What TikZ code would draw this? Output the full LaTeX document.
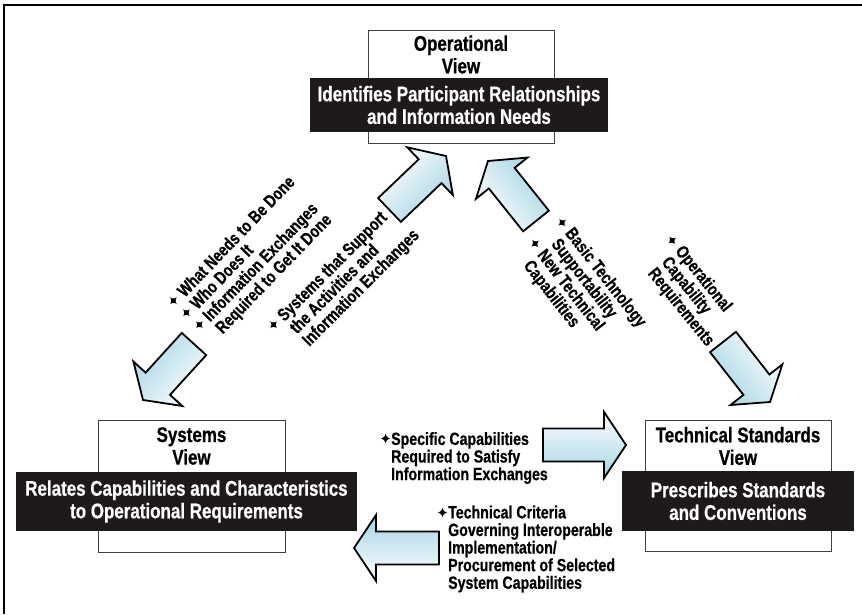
\documentclass[tikz,border=0pt]{standalone}
\usepackage{fontspec}
\setmainfont{Liberation Sans}[FakeStretch=0.8, FakeBold=0.6]
\newfontfamily\symfont{DejaVu Sans}
\usetikzlibrary{calc}
\definecolor{arrowblue}{RGB}{165,212,228}
\definecolor{bandblack}{RGB}{30,26,26}
\newcommand{\boxfont}{\fontsize{21.2}{22.6}\selectfont\bfseries}
\newcommand{\notefont}{\fontsize{17.7}{17.6}\selectfont\bfseries}
\newcommand{\bul}{\makebox[11pt]{\symfont\fontsize{15}{15}\selectfont ✦}}
\newcommand{\shafthw}{16.5pt}
\newcommand{\headhw}{33pt}
\newcommand{\headlen}{22pt}
% block arrow: shading angle, tail, tip
\newcommand{\blockarrow}[3]{%
  \coordinate (#2-hb) at ($(#3)!\headlen!(#2)$);
  \path[blockarr, shading angle=#1]
    ($(#2)!\shafthw!90:(#3)$) -- ($(#2-hb)!\shafthw!90:(#3)$)
    -- ($(#2-hb)!\headhw!90:(#3)$) -- (#3)
    -- ($(#2-hb)!\headhw!-90:(#3)$) -- ($(#2-hb)!\shafthw!-90:(#3)$)
    -- ($(#2)!\shafthw!-90:(#3)$) -- cycle;}
\tikzset{
  viewbox/.style={draw=black!75, line width=0.8pt},
  title/.style={font=\boxfont, align=center, inner sep=0pt},
  band/.style={fill=bandblack, text=white, font=\boxfont, align=center, inner sep=0pt},
  note/.style={font=\notefont, align=left, inner sep=0pt},
  blockarr/.style={draw=black, line width=1.8pt, line join=miter,
    left color=white, right color=arrowblue}
}

\begin{document}
\begin{tikzpicture}[x=1pt,y=1pt]
  \useasboundingbox (0,0) rectangle (862,614);
  \draw[line width=2pt] (4,0) -- (4,609) -- (862,609);

  % views
  \node[viewbox, minimum width=186pt, minimum height=113pt] (opBox) at (461,527.5) {};
  \node[title] (opTitle) at (461,559.5) {Operational\\View};
  \node[band, minimum width=298pt, minimum height=54pt] (opBand) at (459,509)
    {Identifies Participant Relationships\\and Information Needs};

  \node[viewbox, minimum width=187pt, minimum height=132pt] (sysBox) at (191.5,128) {};
  \node[title] (sysTitle) at (191.5,168) {Systems\\View};
  \node[band, minimum width=341pt, minimum height=59pt] (sysBand) at (186.5,112.5)
    {Relates Capabilities and Characteristics\\to Operational Requirements};

  \node[viewbox, minimum width=186pt, minimum height=131pt] (tsBox) at (738,128.5) {};
  \node[title] (tsTitle) at (738,168) {Technical Standards\\View};
  \node[band, minimum width=232pt, minimum height=60pt] (tsBand) at (738,113)
    {Prescribes Standards\\and Conventions};

  % arrows
  \coordinate (opSysT) at (194,270);  \coordinate (opSysH) at (143,214);
  \coordinate (sysOpT) at (389.5,404); \coordinate (sysOpH) at (446,458);
  \coordinate (tsOpT) at (536,393);   \coordinate (tsOpH) at (488,453);
  \coordinate (opTsT) at (723,272);   \coordinate (opTsH) at (770,212);
  \coordinate (sysTsT) at (543,169);  \coordinate (sysTsH) at (626,169);
  \coordinate (tsSysT) at (439,66);   \coordinate (tsSysH) at (354,66);
  \blockarrow{228}{opSysT}{opSysH}
  \blockarrow{44}{sysOpT}{sysOpH}
  \blockarrow{129}{tsOpT}{tsOpH}
  \blockarrow{-52}{opTsT}{opTsH}
  \blockarrow{0}{sysTsT}{sysTsH}
  \blockarrow{180}{tsSysT}{tsSysH}

  % labels
  \node[note, rotate=46, anchor=west] (opSysLbl) at (190,290)
    {\bul\ What Needs to Be Done\\\bul\ Who Does It\\\bul\ Information Exchanges\\\phantom{\bul\ }Required to Get It Done};
  \node[note, rotate=45, anchor=west] (sysOpLbl) at (283,272)
    {\bul\ Systems that Support\\\phantom{\bul\ }the Activities and\\\phantom{\bul\ }Information Exchanges};
  \node[note, rotate=-52, anchor=west] (tsOpLbl) at (538,379)
    {\bul\ Basic Technology\\\phantom{\bul\ }Supportability\\\bul\ New Technical\\\phantom{\bul\ }Capabilities};
  \node[note, rotate=-51, anchor=west] (opTsLbl) at (655,366)
    {\bul\ Operational\\\phantom{\bul\ }Capability\\\phantom{\bul\ }Requirements};
  \node[note, anchor=west] (sysTsLbl) at (380,156)
    {\bul Specific Capabilities\\\phantom{\bul}Required to Satisfy\\\phantom{\bul}Information Exchanges};
  \node[note, anchor=west] (tsSysLbl) at (437,65)
    {\bul Technical Criteria\\\phantom{\bul}Governing Interoperable\\\phantom{\bul}Implementation/\\\phantom{\bul}Procurement of Selected\\\phantom{\bul}System Capabilities};
\end{tikzpicture}
\end{document}
